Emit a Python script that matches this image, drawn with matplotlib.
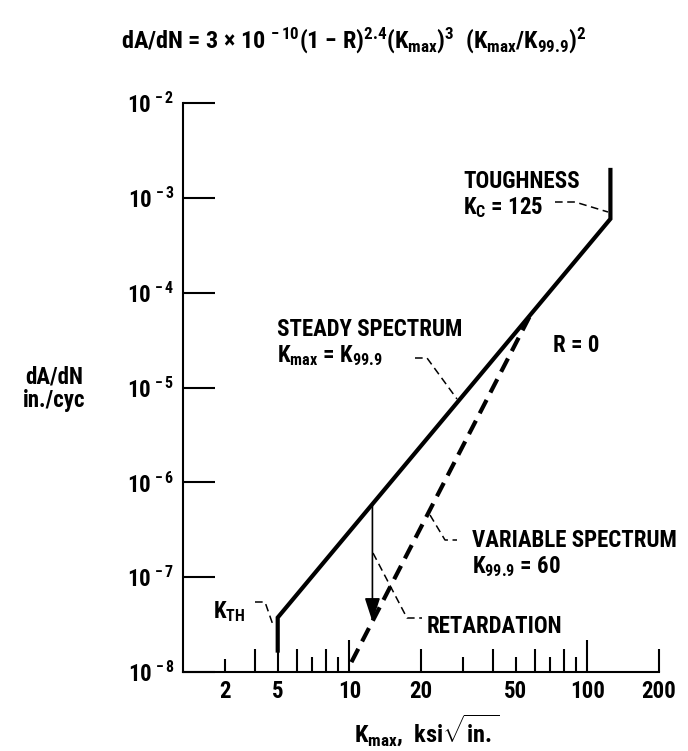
import matplotlib
matplotlib.use("Agg")
import matplotlib.pyplot as plt
from matplotlib import font_manager
from matplotlib.transforms import Affine2D
from matplotlib.ticker import FixedLocator, FixedFormatter, NullLocator

names = {f.name for f in font_manager.fontManager.ttflist}
FONT = "Liberation Sans"
NARROW = False
for cand in ["Liberation Sans Narrow", "DejaVu Sans Condensed", "Roboto Condensed",
             "Open Sans Condensed", "Arial Narrow"]:
    if cand in names:
        FONT, NARROW = cand, True
        break

plt.rcParams["font.family"] = [FONT, "DejaVu Sans"]
plt.rcParams["font.weight"] = "bold"
plt.rcParams["mathtext.fontset"] = "custom"
plt.rcParams["mathtext.rm"] = FONT + ":bold"
plt.rcParams["mathtext.it"] = FONT + ":bold"
plt.rcParams["mathtext.bf"] = FONT + ":bold"
plt.rcParams["mathtext.sf"] = FONT + ":bold"

FS = 16.5 if NARROW else 14.5

# ---------------- data ----------------
steady_K = [5, 5, 125, 125]
steady_dadn = [1.6e-8, 3.75e-8, 6.0e-4, 2.07e-3]

variable_K = [10.2, 57.6]
variable_dadn = [1.27e-8, 5.8e-5]

retard_K = 12.5
retard_top = 5.9e-7
retard_bottom = 3.4e-8

x_tick_pos = [3, 4, 5, 6, 7, 8, 9, 10, 20, 30, 40, 50, 60, 70, 80, 90, 100, 200]
x_tick_lab = ["2", "", "5", "", "", "", "", "10", "20", "", "", "50", "", "", "", "", "100", "200"]
x_tick_len_px = [13, 23, 23, 23, 15, 23, 15, 32, 23, 15, 23, 15, 23, 15, 23, 15, 32, 23]

y_tick_pos = [1e-8, 1e-7, 1e-6, 1e-5, 1e-4, 1e-3, 1e-2]
y_tick_lab = [r"$10^{\,-8}$", r"$10^{\,-7}$", r"$10^{\,-6}$", r"$10^{\,-5}$",
              r"$10^{\,-4}$", r"$10^{\,-3}$", r"$10^{\,-2}$"]

# ---------------- figure ----------------
W, H = 688, 751
fig = plt.figure(figsize=(W / 100, H / 100), dpi=100)
ax = fig.add_axes([183 / W, 1 - 672 / H, (659 - 183) / W, (672 - 103) / H])
pix = Affine2D().scale(1 / W, -1 / H).translate(0, 1) + fig.transFigure

ax.set_xscale("log")
ax.set_yscale("log")
ax.set_xlim(2, 200)
ax.set_ylim(1e-8, 1e-2)
for s in ["top", "right"]:
    ax.spines[s].set_visible(False)
for s in ["left", "bottom"]:
    ax.spines[s].set_linewidth(1.5)

ax.plot(steady_K, steady_dadn, color="black", lw=3.0, solid_capstyle="butt",
        solid_joinstyle="miter", clip_on=False)
ax.plot(variable_K, variable_dadn, color="black", lw=3.0, linestyle=(0, (3.6, 2.0)),
        dash_capstyle="butt", clip_on=False)
ax.annotate("", xy=(retard_K, retard_bottom), xytext=(retard_K, retard_top),
            arrowprops=dict(arrowstyle="-|>,head_length=0.4,head_width=0.13",
                            mutation_scale=36, lw=1.2, color="black",
                            shrinkA=0, shrinkB=0))

# ticks
ax.xaxis.set_major_locator(FixedLocator(x_tick_pos))
ax.xaxis.set_major_formatter(FixedFormatter(x_tick_lab))
ax.xaxis.set_minor_locator(NullLocator())
ax.yaxis.set_major_locator(FixedLocator(y_tick_pos))
ax.yaxis.set_major_formatter(FixedFormatter(y_tick_lab))
ax.yaxis.set_minor_locator(NullLocator())
ax.tick_params(axis="x", direction="in", width=1.5, labelsize=FS, pad=6)
ax.tick_params(axis="y", direction="in", width=1.5, length=23, labelsize=FS, pad=6)
for t, L in zip(ax.xaxis.get_major_ticks(), x_tick_len_px):
    t.tick1line.set_markersize(L * 0.72)

# labels
fig.text(354 / W, 1 - 40 / H,
         r"dA/dN = 3 $\times$ 10 $^{-\,10}$(1 $-$ R)$^{2.4}$(K$_{\rm max}$)$^3$  (K$_{\rm max}$/K$_{99.9}$)$^2$",
         ha="center", va="center", fontsize=FS + 1)
fig.text(54 / W, 1 - 389 / H, "dA/dN\nin./cyc", ha="center", va="center",
         fontsize=FS, linespacing=1.05)
fig.text(427 / W, 1 - 730 / H, r"K$_{\rm max}$,  ksi$\sqrt{\rm in.}$",
         ha="center", va="center", fontsize=FS + 1)

tk = dict(transform=pix, fontsize=FS, color="black")
lk = dict(transform=pix, color="black", lw=1.1, linestyle=(0, (5, 3)))

ax.text(463, 188, "TOUGHNESS", ha="left", va="baseline", **tk)
ax.text(463, 214, r"K$_{\rm C}$ = 125", ha="left", va="baseline", **tk)
ax.plot([555, 575, 608], [202, 202, 212], clip_on=False, **lk)

ax.text(277, 336, "STEADY SPECTRUM", ha="left", va="baseline", **tk)
ax.text(277, 362, r"K$_{\rm max}$ = K$_{99.9}$", ha="left", va="baseline", **tk)
ax.plot([415, 427, 457], [358, 358, 399], clip_on=False, **lk)

ax.text(553, 352, "R = 0", ha="left", va="baseline", **tk)

ax.text(472, 547, "VARIABLE SPECTRUM", ha="left", va="baseline", **tk)
ax.text(472, 573, r"K$_{99.9}$ = 60", ha="left", va="baseline", **tk)
ax.plot([430, 445, 457], [515, 540, 540], clip_on=False, **lk)

ax.text(427, 633, "RETARDATION", ha="left", va="baseline", **tk)
ax.plot([373, 407, 422], [553, 618, 618], clip_on=False, **lk)

ax.text(213, 618, r"K$_{\rm TH}$", ha="left", va="baseline", **tk)
ax.plot([255, 265, 273], [602, 602, 625], clip_on=False, **lk)

fig.savefig("out.png", dpi=100)
